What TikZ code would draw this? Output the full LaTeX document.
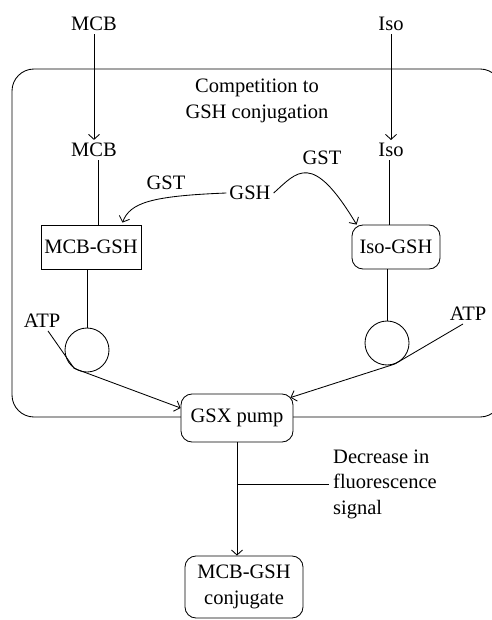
\documentclass[tikz,border=0pt]{standalone}
\usepackage{fontspec}
\setmainfont{Liberation Serif}
\usetikzlibrary{arrows.meta,calc}
\begin{document}
\begin{tikzpicture}[x=1pt,y=-1pt,
  every node/.style={font=\fontsize{20.5}{25.5}\selectfont, inner sep=3pt},
  conn/.style={line width=0.85pt},
  arr/.style={conn,-{Straight Barb[length=5pt,width=11pt]}},
  sqbox/.style={draw,line width=0.85pt,minimum width=100pt,minimum height=44pt,inner sep=1pt},
  rbox/.style={draw,line width=0.85pt,rounded corners=11pt,inner sep=1pt,fill=white},
  pumpcirc/.style={draw,circle,line width=0.85pt,minimum size=44pt,inner sep=0pt}]
\useasboundingbox (0,0) rectangle (491,620);
% outer cell box
\draw[conn,rounded corners=22pt] (12,69) rectangle (502,417);
% nodes
\node (mcbtop) at (94,24) {MCB};
\node (isotop) at (391,24) {Iso};
\node[align=center] (comp) at (257,101) {Competition to\\GSH conjugation};
\node (mcbmid) at (94,150) {MCB};
\node (isomid) at (391,150) {Iso};
\node (gsh) at (250,193) {GSH};
\node (gstL) at (166,183) {GST};
\node (gstR) at (322,158) {GST};
\node[sqbox] (mcbgsh) at (91,247) {MCB-GSH};
\node[rbox,minimum width=88pt,minimum height=44pt] (isogsh) at (396,247) {Iso-GSH};
\node[pumpcirc] (c1) at (87,350) {};
\node[pumpcirc] (c2) at (387,343) {};
\node (atpL) at (42,321) {ATP};
\node (atpR) at (468,314) {ATP};
\node[rbox,minimum width=112pt,minimum height=48pt] (gsx) at (237,418) {GSX pump};
\node[rbox,align=center,minimum width=118pt,minimum height=62pt] (conj) at (244,587) {MCB-GSH\\conjugate};
\node[anchor=west,align=left,inner sep=4pt] (dec) at (329,484) {Decrease in\\fluorescence\\signal};
% connectors
\draw[arr] (mcbtop.south) -- (mcbmid.north);
\draw[arr] (isotop.south) -- (isomid.north);
\coordinate (mcbl) at ($(mcbmid.south)+(4,0)$);
\draw[conn] (mcbl) -- (mcbl |- mcbgsh.north);
\coordinate (isol) at ($(isomid.south)+(-2,0)$);
\draw[conn] (isol) -- (isol |- isogsh.north);
\draw[conn] (c1.north |- mcbgsh.south) -- (c1.north);
\draw[conn] (c2.north |- isogsh.south) -- (c2.north);
\draw[arr] (gsh.west) .. controls (150,196) and (130,203) .. ($(mcbgsh.north east)+(-19,-2)$);
\draw[arr] (gsh.east) .. controls (297,172) and (312,150) .. ($(isogsh.north west)+(5,0)$);
\draw[arr] ($(atpL.south)+(6,0)$) -- (c1.235) -- ($(gsx.west)+(0,-10)$);
\draw[arr] ($(atpR.south)+(-5,0)$) -- (c2.290) -- ($(gsx.north east)+(-3,4)$);
\draw[arr] (gsx.south) -- (gsx.south |- conj.north);
\coordinate (br) at (gsx.south |- dec.west);
\draw[conn] (br) -- (dec.west);
\end{tikzpicture}
\end{document}
